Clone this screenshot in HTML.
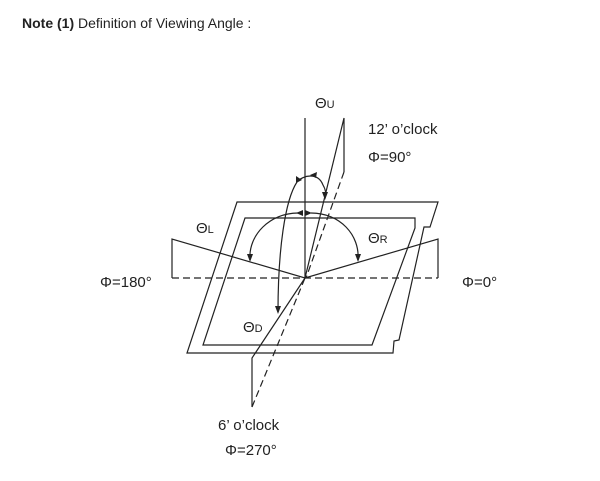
<!DOCTYPE html>
<html><head><style>
body{margin:0;background:#fff;}
svg{display:block}
text{font-family:"Liberation Sans",sans-serif;fill:#222;}
</style></head><body>
<svg width="600" height="481" viewBox="0 0 600 481" xmlns="http://www.w3.org/2000/svg">
<text x="22" y="28" font-size="14"><tspan font-weight="bold">Note (1)</tspan> Definition of Viewing Angle :</text>
<g stroke="#222" stroke-width="1.2" fill="none">
<!-- outer frame -->
<path d="M237,202 L438,202 L430,227 L424,227 L399,340 L394,341 L393,353 L187,353 Z"/>
<!-- inner frame -->
<path d="M245,218 L415,218 L415,228 L372,345 L203,345 Z"/>
<!-- vertical axis -->
<line x1="305" y1="118" x2="305" y2="278"/>
<!-- horizontal dashed -->
<line x1="172" y1="278" x2="438" y2="278" stroke-dasharray="7,4"/>
<!-- left and right triangles -->
<path d="M172,278 L172,239 L305,278 L438,239 L438,278"/>
<!-- 12 o'clock plane -->
<path d="M305,278 L344,118 L344,172"/>
<line x1="344" y1="172" x2="306" y2="278" stroke-dasharray="7,4"/>
<!-- 6 o'clock plane -->
<path d="M305,278 L252,358 L252,407"/>
<line x1="252" y1="407" x2="305" y2="278" stroke-dasharray="7,4"/>
<!-- L/R arc -->
<path d="M250,260 C248,235 270,213 298,213"/>
<path d="M311,213 C340,213 360,235 358,260"/>
<!-- U arc -->
<path d="M297,182 C303,175 318,172 323,185 C326,190 326,195 325,198"/>
<!-- D arc -->
<path d="M297,182 C285,200 278,250 278,312"/>
</g>
<g fill="#222">
<polygon points="250,262 247,254 253,254"/>
<polygon points="358,262 355,254 361,254"/>
<polygon points="296,213 303,210 303,216"/>
<polygon points="312,213 305,210 305,216"/>
<polygon points="325,200 322,192 328,192"/>
<polygon points="310,175 317,172 316,178"/>
<polygon points="296,183 296,176 302,180"/>
<polygon points="278,314 275,306 281,306"/>
</g>
<g font-size="15">
<text x="315" y="108">Θ<tspan font-size="11">U</tspan></text>
<text x="368" y="134">12’ o’clock</text>
<text x="368" y="162">Φ=90°</text>
<text x="196" y="233">Θ<tspan font-size="11">L</tspan></text>
<text x="368" y="243">Θ<tspan font-size="11">R</tspan></text>
<text x="100" y="287">Φ=180°</text>
<text x="462" y="287">Φ=0°</text>
<text x="243" y="332">Θ<tspan font-size="11">D</tspan></text>
<text x="218" y="430">6’ o’clock</text>
<text x="225" y="455">Φ=270°</text>
</g>
</svg>
</body></html>
